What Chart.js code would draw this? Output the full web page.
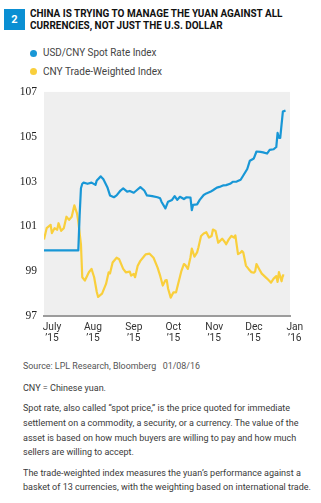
<!DOCTYPE html>
<html><head><meta charset="utf-8">
<script src="https://cdn.jsdelivr.net/npm/chart.js@4/dist/chart.umd.min.js"></script>
<style>
html,body{margin:0;padding:0;background:#fff;}
body{width:321px;height:503px;position:relative;overflow:hidden;font-family:Roboto,'Liberation Sans',sans-serif;color:#3a3a3a;}
.badge{position:absolute;left:4px;top:9px;width:21px;height:21px;background:#0a8fd3;color:#fff;font-weight:bold;font-size:11px;text-align:center;line-height:21px;}
.fit{position:absolute;white-space:nowrap;transform-origin:0 0;}
.title{left:30px;top:8.3px;font-weight:bold;font-size:11.8px;line-height:11.5px;color:#111;}
.leg{left:43px;font-size:10.4px;line-height:12px;color:#444;}
.dot{position:absolute;left:29.5px;width:7px;height:7px;border-radius:50%;}
#wrap{position:absolute;left:0;top:78px;width:321px;height:270px;}
.note{left:23px;font-size:9.5px;color:#3a3a3a;}
</style>
</head><body>
<div class="badge">2</div>
<div class="fit title" data-w="252.5">CHINA IS TRYING TO MANAGE THE YUAN AGAINST ALL<br>CURRENCIES, NOT JUST THE U.S. DOLLAR</div>
<div id="legend"></div>
<div id="wrap"><canvas id="c" width="321" height="270"></canvas></div>
<div class="fit note" data-w="177" style="top:359px;line-height:14px;color:#555;">Source: LPL Research, Bloomberg&nbsp;&nbsp;&nbsp;01/08/16</div>
<div class="fit note" data-w="83" style="top:380.7px;line-height:14px;">CNY = Chinese yuan.</div>
<div class="fit note" data-w="275.5" style="top:401px;line-height:14.8px;">Spot rate, also called “spot price,” is the price quoted for immediate<br>settlement on a commodity, a security, or a currency. The value of the<br>asset is based on how much buyers are willing to pay and how much<br>sellers are willing to accept.</div>
<div class="fit note" data-w="288" style="top:465.7px;line-height:14px;">The trade-weighted index measures the yuan’s performance against a<br>basket of 13 currencies, with the weighting based on international trade.</div>
<script>
// x values: days since 1 July 2015
const spotDays = [0,26,27,28,29,30,33,36,39,40,43,45,48,50,53,55,58,60,63,65,68,70,73,76,78,82,86,88,89,92,94,97,99,101,103,106,108,111,112,113,116,118,121,123,126,128,131,133,136,138,141,143,146,149,151,154,156,159,161,164,166,169,171,174,176,177,178,179,180,181,183];
const spotValues = [99.93,99.93,101.5,102.7,102.9,102.95,102.9,102.95,102.85,103.05,103.23,103.1,102.75,102.38,102.3,102.38,102.6,102.69,102.55,102.58,102.5,102.6,102.75,102.6,102.38,102.35,102.3,102.25,102.1,101.8,102.1,102.18,102.35,102.18,102.32,102.22,102.3,102.28,101.72,101.96,101.98,102.18,102.4,102.47,102.54,102.61,102.73,102.76,102.83,102.84,102.9,102.99,103.0,103.08,103.27,103.56,103.93,104.03,104.34,104.32,104.3,104.25,104.41,104.44,104.54,105.17,104.95,104.95,105.54,106.12,106.17];
const twDays = [0,2,5,6,8,10,11,13,15,17,19,21,23,25,26,28,29,31,34,36,38,40,41,44,47,49,50,52,55,57,60,62,65,66,68,69,71,73,76,77,80,83,86,88,90,92,93,94,96,98,100,102,104,106,107,109,111,112,114,116,117,119,121,123,125,127,128,130,132,133,135,137,138,140,142,144,145,147,149,150,151,153,155,157,159,160,161,163,165,167,169,171,172,174,176,177,178,180,181,182];
const twValues = [100.41,100.92,101.07,100.7,100.92,100.85,101.14,100.8,100.92,101.43,101.29,101.43,101.94,101.58,101.21,100.19,98.73,98.58,98.95,99.1,98.73,98.07,97.85,98.0,98.43,98.95,98.9,99.39,99.6,99.53,99.1,98.95,98.98,98.8,98.88,98.73,99.24,99.46,99.68,99.75,99.78,99.6,99.17,98.8,98.36,98.59,98.6,98.23,97.82,98.05,98.05,98.52,98.99,99.32,99.28,99.1,99.62,100.01,99.65,99.84,100.06,100.57,100.68,100.74,100.5,100.57,100.86,100.79,100.27,100.33,100.45,100.3,100.2,100.42,100.57,100.5,100.6,99.76,99.83,99.9,99.83,99.25,99.1,98.96,98.93,98.99,99.32,99.1,98.89,98.78,98.67,98.55,98.49,98.67,98.78,98.52,98.96,98.55,98.81,98.8];
const monthDays = [0,31,62,92,123,153,184];
const monthLabels = [['July','’15'],['Aug','’15'],['Sep','’15'],['Oct','’15'],['Nov','’15'],['Dec','’15'],['Jan','’16']];
const yTicks = [97,99,101,103,105,107];
const seriesNames = ['USD/CNY Spot Rate Index','CNY Trade-Weighted Index'];
const seriesColors = ['#1897d6','#f9cf3c'];

const toPts = (xs, ys) => xs.map((x, i) => ({x: x, y: ys[i]}));

// legend
const leg = document.getElementById('legend');
const legTops = [47.3, 65.7];
const legW = [113.5, 119];
seriesNames.forEach((n, i) => {
  const dot = document.createElement('div');
  dot.className = 'dot';
  dot.style.top = (legTops[i] + 2.5) + 'px';
  dot.style.background = seriesColors[i];
  leg.appendChild(dot);
  const t = document.createElement('div');
  t.className = 'fit leg';
  t.style.top = legTops[i] + 'px';
  t.dataset.w = legW[i];
  t.textContent = n;
  leg.appendChild(t);
});

// condense text blocks horizontally to the measured widths
document.querySelectorAll('.fit').forEach(el => {
  const w = el.getBoundingClientRect().width;
  const target = parseFloat(el.dataset.w);
  if (w > 0 && target) el.style.transform = 'scaleX(' + (target / w).toFixed(4) + ')';
});

const bgPlugin = {
  id: 'bg',
  beforeDraw(chart) {
    const a = chart.chartArea, ctx = chart.ctx;
    ctx.save(); ctx.fillStyle = '#efefef';
    ctx.fillRect(a.left, a.top, a.right - a.left, a.bottom - a.top);
    ctx.restore();
  }
};

new Chart(document.getElementById('c'), {
  type: 'line',
  data: {
    datasets: [
      {label: seriesNames[1], data: toPts(twDays, twValues), borderColor: seriesColors[1], borderWidth: 2.2, pointRadius: 0, tension: 0, borderJoinStyle: 'round', order: 2},
      {label: seriesNames[0], data: toPts(spotDays, spotValues), borderColor: seriesColors[0], borderWidth: 2.2, pointRadius: 0, tension: 0, borderJoinStyle: 'round', order: 1}
    ]
  },
  options: {
    responsive: false, animation: false, events: [],
    layout: {padding: {left: 0, right: 31, top: 10, bottom: 0}},
    plugins: {legend: {display: false}, tooltip: {enabled: false}},
    scales: {
      x: {
        type: 'linear', min: 0, max: 186.4,
        grid: {display: false, drawTicks: false},
        border: {display: true, color: '#9c9c9c', width: 2},
        afterBuildTicks: s => { s.ticks = monthDays.map(v => ({value: v})); },
        afterFit: s => { s.height = 32; },
        ticks: {
          autoSkip: false, maxRotation: 0, padding: 6, labelOffset: 8,
          color: '#333', font: {family: "Roboto,'Liberation Sans',sans-serif", size: 10.2, lineHeight: 1.07},
          callback: (v, i) => monthLabels[i]
        }
      },
      y: {
        min: 97, max: 107,
        grid: {display: false, drawTicks: false},
        border: {display: false},
        afterBuildTicks: s => { s.ticks = yTicks.map(v => ({value: v})); },
        afterFit: s => { s.width = 44; },
        ticks: {padding: 7, color: '#222', font: {family: "'Liberation Serif','DejaVu Serif',serif", size: 11.5}}
      }
    }
  },
  plugins: [bgPlugin]
});
</script>
</body></html>
